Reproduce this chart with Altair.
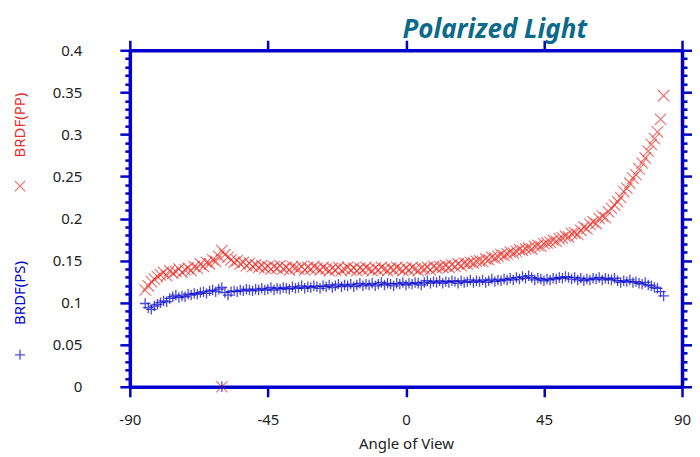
import altair as alt
import pandas as pd

BLUE = "#0000cc"
RED = "#e8302a"
FONT = "Noto Sans"

# angle of view, one sample per degree
angles = list(range(-85, 85))

brdf_pp = [
    0.115, 0.120, 0.125, 0.128, 0.131, 0.133, 0.136, 0.132, 0.138, 0.135,
    0.137, 0.140, 0.136, 0.139, 0.141, 0.138, 0.143, 0.141, 0.146, 0.143,
    0.148, 0.146, 0.151, 0.149, 0.155, 0.162, 0.157, 0.154, 0.151, 0.148,
    0.150, 0.146, 0.148, 0.144, 0.147, 0.143, 0.145, 0.142, 0.144, 0.141,
    0.143, 0.140, 0.143, 0.141, 0.144, 0.140, 0.142, 0.139, 0.143, 0.141,
    0.140, 0.143, 0.139, 0.142, 0.140, 0.143, 0.141, 0.139, 0.142, 0.140,
    0.138, 0.141, 0.139, 0.142, 0.138, 0.140, 0.142, 0.139, 0.141, 0.138,
    0.141, 0.139, 0.142, 0.140, 0.138, 0.141, 0.139, 0.142, 0.140, 0.138,
    0.141, 0.139, 0.142, 0.140, 0.138, 0.141, 0.139, 0.142, 0.140, 0.138,
    0.141, 0.140, 0.142, 0.139, 0.143, 0.141, 0.143, 0.142, 0.144, 0.142,
    0.145, 0.143, 0.146, 0.144, 0.147, 0.146, 0.148, 0.147, 0.149, 0.150,
    0.149, 0.152, 0.151, 0.154, 0.153, 0.155, 0.157, 0.156, 0.158, 0.160,
    0.159, 0.161, 0.163, 0.162, 0.164, 0.165, 0.164, 0.167, 0.168, 0.167,
    0.170, 0.171, 0.172, 0.174, 0.173, 0.176, 0.177, 0.179, 0.178, 0.182,
    0.183, 0.181, 0.186, 0.190, 0.188, 0.193, 0.196, 0.194, 0.200, 0.203,
    0.201, 0.208, 0.212, 0.216, 0.220, 0.225, 0.232, 0.236, 0.242, 0.248,
    0.252, 0.259, 0.266, 0.272, 0.280, 0.288, 0.295, 0.303, 0.318, 0.346,
]

brdf_ps = [
    0.099, 0.094, 0.092, 0.096, 0.098, 0.100, 0.102, 0.101, 0.105, 0.107,
    0.109, 0.106, 0.108, 0.107, 0.110, 0.109, 0.111, 0.110, 0.112, 0.113,
    0.111, 0.114, 0.115, 0.113, 0.116, 0.118, 0.112, 0.109, 0.113, 0.114,
    0.113, 0.115, 0.114, 0.116, 0.115, 0.114, 0.116, 0.115, 0.117, 0.115,
    0.116, 0.118, 0.115, 0.117, 0.116, 0.118, 0.117, 0.116, 0.119, 0.117,
    0.118, 0.120, 0.117, 0.119, 0.118, 0.120, 0.119, 0.117, 0.120, 0.119,
    0.121, 0.118, 0.120, 0.122, 0.119, 0.121, 0.120, 0.122, 0.119, 0.121,
    0.123, 0.120, 0.122, 0.121, 0.123, 0.120, 0.122, 0.124, 0.121, 0.123,
    0.122, 0.120, 0.123, 0.122, 0.124, 0.121, 0.123, 0.122, 0.124, 0.123,
    0.121, 0.124, 0.126, 0.123, 0.125, 0.124, 0.126, 0.123, 0.125, 0.124,
    0.126, 0.125, 0.123, 0.126, 0.124, 0.125, 0.127, 0.124, 0.126, 0.125,
    0.127, 0.124, 0.126, 0.128, 0.125, 0.127, 0.126, 0.128, 0.127, 0.129,
    0.127, 0.130, 0.128, 0.131, 0.129, 0.132, 0.130, 0.127, 0.129, 0.128,
    0.126, 0.128, 0.127, 0.129, 0.128, 0.130, 0.129, 0.131, 0.130, 0.128,
    0.130, 0.127, 0.129, 0.126, 0.128, 0.127, 0.129, 0.128, 0.130, 0.127,
    0.129, 0.128, 0.127, 0.129, 0.126, 0.124, 0.126, 0.125, 0.127, 0.124,
    0.125, 0.123, 0.122, 0.124, 0.121, 0.120, 0.118, 0.117, 0.113, 0.108,
]

# one bad reading where both channels dropped to zero
glitch_angle = [-60]
glitch_pp = [0.0]
glitch_ps = [0.0]

x_ticks = [-90, -45, 0, 45, 90]
y_ticks = [round(i * 0.01, 2) for i in range(41)]

df = pd.DataFrame({
    "angle": angles + glitch_angle,
    "pp": brdf_pp + glitch_pp,
    "ps": brdf_ps + glitch_ps,
})

X_SHAPE = "M-1,-1L1,1M-1,1L1,-1"
PLUS_SHAPE = "M-1,0L1,0M0,-1L0,1"

x_scale = alt.Scale(domain=[-90, 90], nice=False, zero=False)
y_scale = alt.Scale(domain=[0, 0.4], nice=False)

major_minor = alt.condition("round(datum.value * 100) % 5 == 0", alt.value(10), alt.value(5))

axis_style = dict(
    domainColor=BLUE, domainWidth=3.5, tickColor=BLUE, tickWidth=2.5,
    grid=False, labelFont=FONT, labelFontSize=15,
    labelColor="#222222", labelOverlap=False, labelFlush=False,
)

pp_layer = alt.Chart(df).mark_point(
    shape=X_SHAPE, filled=False, color=RED, strokeWidth=1.1, opacity=0.7, size=130
).encode(
    x=alt.X("angle:Q", scale=x_scale,
            axis=alt.Axis(orient="bottom", values=x_ticks, tickSize=10,
                          labelExpr="toString(datum.value)",
                          labelPadding=16, title="Angle of View",
                          titleFont=FONT, titleFontSize=15, titleFontWeight="normal",
                          titleColor="#222222", titlePadding=9, **axis_style)),
    y=alt.Y("pp:Q", scale=y_scale,
            axis=alt.Axis(orient="left", values=y_ticks, tickSize=major_minor, title=None,
                          labelExpr="round(datum.value * 100) % 5 == 0 ? toString(datum.value) : ''",
                          labelPadding=38, **axis_style)),
)

ps_layer = alt.Chart(df).mark_point(
    shape=PLUS_SHAPE, filled=False, color=BLUE, strokeWidth=1.3, opacity=0.7, size=110
).encode(
    x=alt.X("angle:Q", scale=x_scale,
            axis=alt.Axis(orient="top", values=x_ticks, tickSize=10, labels=False,
                          title=None, **axis_style)),
    y=alt.Y("ps:Q", scale=y_scale,
            axis=alt.Axis(orient="right", values=y_ticks, tickSize=major_minor,
                          labels=False, title=None, **axis_style)),
)

one = pd.DataFrame({"k": [0]})

pp_label = alt.Chart(one).mark_text(
    text="BRDF(PP)", angle=270, font=FONT, fontSize=15, color=RED, align="center", baseline="middle"
).encode(x=alt.value(-110), y=alt.value(75))
pp_key = alt.Chart(one).mark_point(
    shape=X_SHAPE, filled=False, color=RED, strokeWidth=1.1, size=110
).encode(x=alt.value(-110), y=alt.value(136))

ps_label = alt.Chart(one).mark_text(
    text="BRDF(PS)", angle=270, font=FONT, fontSize=15, color=BLUE, align="center", baseline="middle"
).encode(x=alt.value(-110), y=alt.value(243))
ps_key = alt.Chart(one).mark_point(
    shape=PLUS_SHAPE, filled=False, color=BLUE, strokeWidth=1.3, size=100
).encode(x=alt.value(-110), y=alt.value(305))

chart = alt.layer(
    pp_layer, ps_layer, pp_label, pp_key, ps_label, ps_key
).resolve_axis(
    x="independent", y="independent"
).properties(
    width=553, height=337,
    autosize=alt.AutoSizeParams(type="none"),
    padding={"left": 122, "top": 42, "right": 10, "bottom": 66},
    title=alt.TitleParams("Polarized Light", anchor="start", frame="group", dx=273,
                          font=FONT, fontSize=26, fontStyle="italic", fontWeight="bold",
                          color="#0b6a8c", offset=-4),
).configure_view(stroke=None)

chart.save("out.html", embed_options={"renderer": "svg", "actions": False})
